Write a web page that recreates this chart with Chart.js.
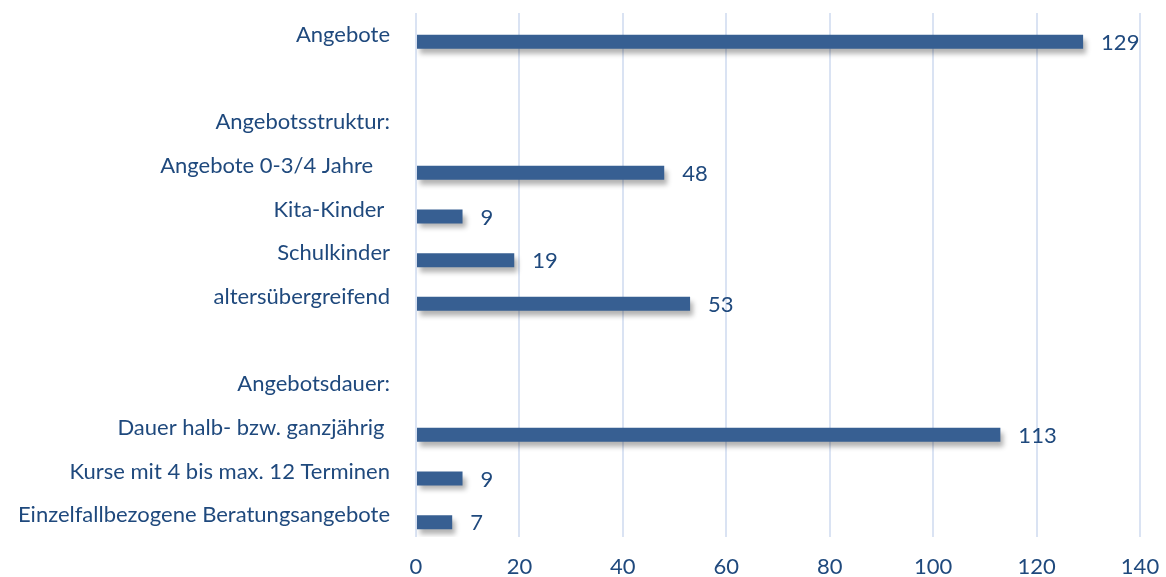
<!DOCTYPE html>
<html>
<head>
<meta charset="utf-8">
<script src="https://cdn.jsdelivr.net/npm/chart.js@4"></script>
<style>
  body { margin: 0; background: #fff; }
</style>
</head>
<body>
<canvas id="barChart" width="1166" height="577"></canvas>
<script>
const categories = [
  'Angebote',
  '',
  'Angebotsstruktur:',
  'Angebote 0-3/4 Jahre   ',
  'Kita-Kinder ',
  'Schulkinder',
  'altersübergreifend',
  '',
  'Angebotsdauer:',
  'Dauer halb- bzw. ganzjährig ',
  'Kurse mit 4 bis max. 12 Terminen',
  'Einzelfallbezogene Beratungsangebote'
];
const counts = [129, null, null, 48, 9, 19, 53, null, null, 113, 9, 7];
const spacer = categories.map(() => null);
const xMin = 0;
const xMax = 140;
const xStep = 20;

const textColor = '#1f497d';
const barColor = '#375f92';
const gridColor = '#dae3f3';
const fontFamily = 'Lato, "Open Sans", sans-serif';
const fontSize = 22;

// Excel-style soft shadow under the bars
const barShadow = {
  id: 'barShadow',
  beforeDatasetDraw(chart, args) {
    if (args.index !== 1) return;
    const ctx = chart.ctx;
    ctx.save();
    ctx.shadowColor = 'rgba(0, 0, 0, 0.3)';
    ctx.shadowOffsetX = 3;
    ctx.shadowOffsetY = 5;
    ctx.shadowBlur = 5;
  },
  afterDatasetDraw(chart, args) {
    if (args.index !== 1) return;
    chart.ctx.restore();
  }
};

// value labels right of each bar
const valueLabels = {
  id: 'valueLabels',
  afterDatasetsDraw(chart) {
    const ctx = chart.ctx;
    const meta = chart.getDatasetMeta(1);
    ctx.save();
    ctx.font = fontSize + 'px ' + fontFamily;
    ctx.fillStyle = textColor;
    ctx.textAlign = 'left';
    ctx.textBaseline = 'middle';
    meta.data.forEach((bar, i) => {
      const v = counts[i];
      if (v === null) return;
      ctx.fillText(String(v), bar.x + 18, bar.y + 1);
    });
    ctx.restore();
  }
};

new Chart(document.getElementById('barChart').getContext('2d'), {
  type: 'bar',
  data: {
    labels: categories,
    datasets: [
      {
        label: 'spacer',
        data: spacer,
        backgroundColor: 'rgba(0,0,0,0)'
      },
      {
        label: 'Anzahl',
        data: counts,
        backgroundColor: barColor,
        borderWidth: 0
      }
    ]
  },
  options: {
    indexAxis: 'y',
    responsive: false,
    animation: false,
    categoryPercentage: 0.64,
    barPercentage: 1,
    layout: {
      padding: { top: 13, right: 26, left: 0, bottom: 0 }
    },
    plugins: {
      legend: { display: false },
      tooltip: { enabled: false }
    },
    scales: {
      x: {
        min: xMin,
        max: xMax,
        ticks: {
          stepSize: xStep,
          color: textColor,
          font: { family: fontFamily, size: fontSize },
          padding: 17
        },
        grid: {
          color: gridColor,
          lineWidth: 2,
          drawTicks: false
        },
        border: { display: false },
        afterFit(scale) {
          scale.height = 40;
          scale.paddingLeft = 0;
          scale.paddingRight = 0;
        }
      },
      y: {
        ticks: {
          color: textColor,
          font: { family: fontFamily, size: fontSize },
          padding: 26,
          autoSkip: false
        },
        grid: { display: false, drawTicks: false },
        border: { display: false },
        afterFit(scale) {
          scale.width = 416;
          scale.paddingTop = 0;
          scale.paddingBottom = 0;
        }
      }
    }
  },
  plugins: [barShadow, valueLabels]
});
</script>
</body>
</html>
